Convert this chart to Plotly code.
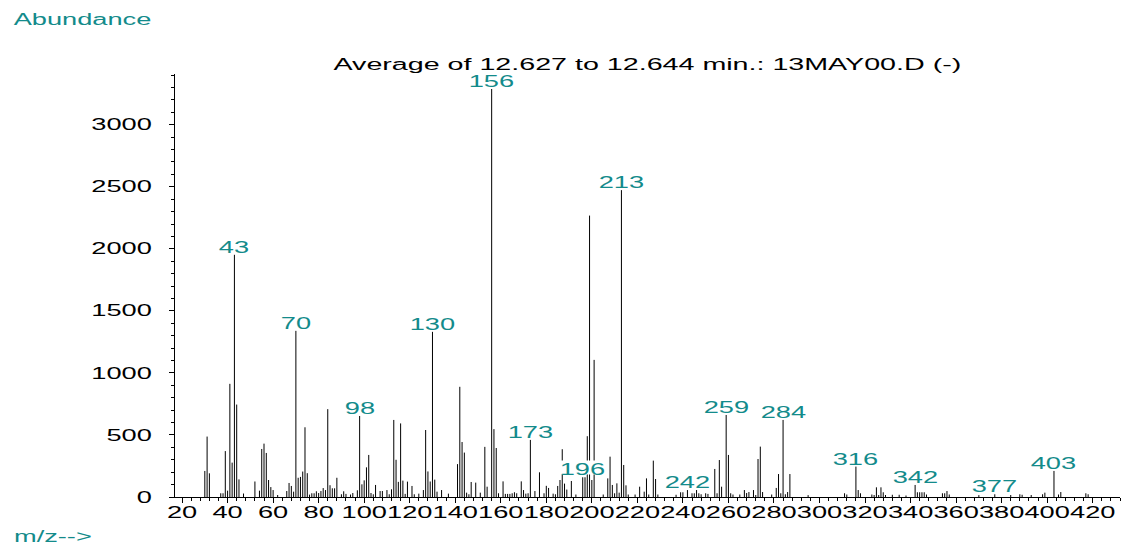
import plotly.graph_objects as go

# ---- data: m/z values and abundances ----
mz = [30, 31, 32, 37, 38, 39, 40, 41, 42, 43, 44, 45, 47, 52, 54, 55, 56, 57, 58, 59, 60, 62,
      66, 67, 68, 69, 70, 71, 72, 73, 74, 75, 76, 77, 78, 79, 80, 81, 82, 83, 84, 85, 86, 87, 88,
      90, 91, 92, 94, 95, 97, 98, 99, 100, 101, 102, 103, 104, 105, 107, 108, 110, 111, 112, 113,
      114, 115, 116, 117, 118, 119, 121, 122, 124, 126, 127, 128, 129, 130, 131, 132, 134, 137,
      141, 142, 143, 144, 145, 146, 147, 149, 151, 153, 154, 156, 157, 158, 159, 161, 162, 163,
      164, 165, 166, 167, 169, 170, 171, 172, 173, 175, 177, 179, 180, 181, 183, 184, 185, 186,
      187, 188, 189, 191, 193, 196, 197, 198, 199, 200, 201, 205, 207, 208, 209, 210, 211, 212,
      213, 214, 215, 216, 219, 221, 223, 224, 225, 227, 228, 229, 237, 239, 240, 242, 244, 245,
      246, 247, 248, 250, 251, 254, 255, 256, 257, 259, 260, 261, 262, 265, 267, 268, 269, 271,
      272, 273, 274, 275, 279, 281, 282, 283, 284, 285, 286, 287, 295, 311, 312, 316, 317, 318,
      323, 324, 325, 326, 327, 328, 329, 332, 335, 338, 342, 343, 344, 345, 346, 347, 354, 355,
      356, 357, 370, 377, 384, 388, 389, 393, 398, 399, 403, 405, 406, 417, 418]
abundance = [210, 487, 191, 30, 30, 370, 51, 912, 277, 1952, 745, 142, 28, 125, 51, 387, 430, 355, 137, 80, 56, 16,
             48, 113, 89, 43, 1339, 155, 162, 205, 562, 192, 19, 30, 30, 46, 32, 48, 72, 56, 708, 95, 70, 70, 155,
             22, 46, 25, 20, 32, 54, 653, 102, 134, 239, 339, 32, 22, 97, 48, 48, 56, 22, 62, 621,
             300, 122, 593, 132, 25, 124, 89, 22, 27, 56, 540, 206, 125, 1331, 140, 43, 56, 27,
             265, 888, 443, 358, 35, 22, 121, 116, 35, 404, 83, 3288, 547, 395, 30, 126, 25, 25,
             25, 30, 38, 30, 126, 56, 27, 30, 460, 48, 199, 30, 90, 73, 27, 22, 89, 137,
             385, 108, 60, 129, 20, 159, 159, 490, 2268, 137, 1105, 20, 150, 325, 97, 30, 110, 35,
             2473, 258, 94, 20, 20, 83, 43, 150, 20, 293, 145, 20, 18, 38, 38, 56, 30, 30,
             56, 30, 22, 30, 25, 226, 30, 298, 83, 661, 339, 30, 20, 20, 56, 32, 40, 56,
             16, 306, 406, 40, 20, 73, 185, 30, 621, 22, 40, 185, 15, 30, 20, 245, 56, 30,
             20, 16, 78, 16, 78, 38, 16, 18, 18, 12, 97, 38, 38, 38, 38, 20, 30, 30,
             48, 20, 15, 22, 16, 22, 18, 16, 22, 35, 210, 20, 40, 30, 22]

labelled_mz = [43, 70, 98, 130, 156, 173, 196, 213, 242, 259, 284, 316, 342, 377, 403]

title_text = "Average of 12.627 to 12.644 min.: 13MAY00.D (-)"
y_title = "Abundance"
x_title = "m/z-->"

TEAL = "#138b8b"
FONT = "Liberation Sans, Arial, sans-serif"

lookup = dict(zip(mz, abundance))

# stick spectrum: one vertical segment per m/z
xs, ys = [], []
for m, a in zip(mz, abundance):
    xs += [m, m, None]
    ys += [0, a, None]

fig = go.Figure()
fig.add_trace(go.Scatter(x=xs, y=ys, mode="lines",
                         line=dict(color="black", width=1),
                         hoverinfo="skip", showlegend=False))

annotations = []
for m in labelled_mz:
    annotations.append(dict(x=m, y=lookup[m], xref="x", yref="y", text=str(m),
                            showarrow=False, yanchor="bottom", xanchor="center",
                            yshift=-2, bgcolor="white", borderpad=0,
                            font=dict(color=TEAL, size=16, family=FONT)))

annotations.append(dict(x=0.5, y=1.0213, xref="paper", yref="paper", text=title_text,
                        showarrow=False, xanchor="center", yanchor="middle",
                        font=dict(color="black", size=16, family=FONT)))
annotations.append(dict(x=-0.0974, y=1.1277, xref="paper", yref="paper", text=y_title,
                        showarrow=False, xanchor="center", yanchor="middle",
                        font=dict(color=TEAL, size=16, family=FONT)))
annotations.append(dict(x=-0.1296, y=-0.0945, xref="paper", yref="paper", text=x_title,
                        showarrow=False, xanchor="center", yanchor="middle",
                        font=dict(color=TEAL, size=16, family=FONT)))

fig.update_layout(
    width=1124, height=546, autosize=False,
    margin=dict(l=175, r=4, t=74, b=49),
    paper_bgcolor="white", plot_bgcolor="white",
    annotations=annotations,
    xaxis=dict(range=[16.9, 432], tickmode="linear", tick0=20, dtick=20,
               showgrid=False, zeroline=False, showline=True, linecolor="black", linewidth=1,
               ticks="outside", ticklen=5, tickcolor="black", tickangle=0, ticklabelstandoff=-4,
               tickfont=dict(size=16, color="black", family=FONT),
               minor=dict(dtick=4, tick0=20, ticks="outside", ticklen=3, tickcolor="black", showgrid=False)),
    yaxis=dict(range=[0, 3409], tickmode="linear", tick0=0, dtick=500,
               showgrid=False, zeroline=False, showline=True, linecolor="black", linewidth=1,
               ticks="outside", ticklen=5, tickcolor="black", ticklabelstandoff=14,
               tickfont=dict(size=16, color="black", family=FONT),
               minor=dict(dtick=100, ticks="outside", ticklen=3, tickcolor="black", showgrid=False)),
)

# widen the glyphs horizontally like the original instrument printout;
# label backgrounds are widened with their text and trimmed so they never cover a peak top
post = """
var gd = document.getElementById('{plot_id}');
function kFor(t){ return (t.textContent.indexOf('Average') === 0) ? 1.79 : 1.7; }
function widen(t){
  var len = t.getComputedTextLength();
  if (!(len > 0)) return 0;
  var k = kFor(t);
  t.setAttribute('textLength', (len * k).toFixed(2));
  t.setAttribute('lengthAdjust', 'spacingAndGlyphs');
  t.setAttribute('data-wide', '1');
  return len * (k - 1);
}
gd.querySelectorAll('g.annotation').forEach(function(g){
  var t = g.querySelector('text');
  if (!t) return;
  var d = widen(t);
  var r = g.querySelector('rect.bg');
  if (r && d > 0) {
    r.setAttribute('x', parseFloat(r.getAttribute('x') || 0) - d / 2);
    r.setAttribute('width', parseFloat(r.getAttribute('width') || 0) + d);
    var h = parseFloat(r.getAttribute('height') || 0);
    r.setAttribute('height', Math.max(0, h - 4));
  }
});
gd.querySelectorAll('svg text').forEach(function(t){
  if (t.getAttribute('data-wide')) return;
  widen(t);
});
"""

fig.write_html("out.html", config={"displayModeBar": False, "responsive": False},
               post_script=post)
